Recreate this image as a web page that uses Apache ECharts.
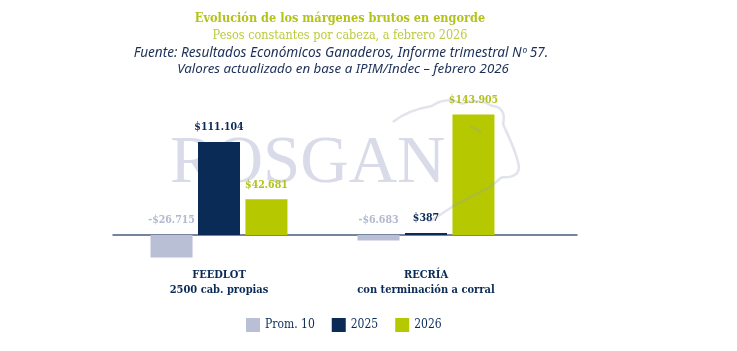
<!DOCTYPE html>
<html><head><meta charset="utf-8">
<script src="https://cdn.jsdelivr.net/npm/echarts@6/dist/echarts.min.js"></script>
<style>html,body{margin:0;padding:0;background:#fff}#c{width:737px;height:351px}</style>
</head><body><div id="c"></div>
<script>
const categories = ['FEEDLOT\n2500 cab. propias', 'RECRÍA\ncon terminación a corral'];
const seriesNames = ['Prom. 10', '2025', '2026'];
const prom10 = [-26715, -6683];
const y2025 = [111104, 387];
const y2026 = [42681, 143905];
const titleLines = [
  'Evolución de los márgenes brutos en engorde',
  'Pesos constantes por cabeza, a febrero 2026',
  'Fuente: Resultados Económicos Ganaderos, Informe trimestral Nº 57.',
  'Valores actualizado en base a IPIM/Indec – febrero 2026'
];
const colors = ['#b9bfd5', '#0b2b57', '#b6c800'];
const labelColors = ['#b3b9cf', '#0b2b57', '#b3c31f'];
const SLAB = '"DejaVu Serif Condensed", "DejaVu Serif", serif';

function fmt(v) {
  const s = Math.abs(v).toString().replace(/\B(?=(\d{3})+(?!\d))/g, '.');
  return (v < 0 ? '-$' : '$') + s;
}

const chart = echarts.init(document.getElementById('c'));
const yMin = -40000, yMax = 160000;
const mk = (i, data) => ({
  name: seriesNames[i], type: 'bar', data: data, barWidth: 42, barGap: '13%', barMinHeight: 2,
  itemStyle: { color: colors[i] }, z: 3,
  label: { show: true, position: 'top', distance: 9, formatter: p => fmt(p.value),
    color: labelColors[i], fontFamily: SLAB, fontWeight: 'bold', fontSize: 10.5 }
});
const cowStroke = 'rgba(150,158,190,0.28)';
const bez = (a) => ({ type: 'bezierCurve', z: 10, silent: true,
  shape: { x1: a[0], y1: a[1], cpx1: a[2], cpy1: a[3], cpx2: a[4], cpy2: a[5], x2: a[6], y2: a[7] },
  style: { stroke: cowStroke, lineWidth: 2.5, fill: null } });

chart.setOption({
  animation: false,
  grid: [
    { left: 115.5, width: 414, top: 101.1, bottom: 82.5 },
    { left: 113, right: 160, top: 101.1, bottom: 82.5 }
  ],
  xAxis: [
    { type: 'category', data: categories, gridIndex: 0,
      axisLine: { show: false }, axisTick: { show: false },
      axisLabel: { margin: -1, color: '#0b2b57', fontFamily: SLAB, fontWeight: 'bold', fontSize: 11, lineHeight: 15 } },
    { type: 'category', data: [''], gridIndex: 1,
      axisLine: { show: true, onZero: true, lineStyle: { color: '#4a5d7e', width: 1.5 } },
      axisTick: { show: false }, axisLabel: { show: false }, splitLine: { show: false } }
  ],
  yAxis: [
    { type: 'value', gridIndex: 0, min: yMin, max: yMax, show: false },
    { type: 'value', gridIndex: 1, min: yMin, max: yMax, show: false }
  ],
  legend: {
    data: seriesNames, left: 246, top: 318, padding: 0, itemWidth: 14, itemHeight: 14, itemGap: 17,
    icon: 'rect', textStyle: { color: '#0b2b57', fontFamily: SLAB, fontSize: 12 }
  },
  series: [mk(0, prom10), mk(1, y2025), mk(2, y2026)],
  graphic: [
    { type: 'text', x: 170, y: 131, z: 0, silent: true,
      style: { text: 'ROSGAN', font: '67px "Liberation Serif", serif', fill: '#d9dce8' } },
    bez([393, 122, 405, 112, 420, 108, 432, 106]),
    bez([432, 106, 440, 100, 452, 98, 462, 104]),
    bez([462, 104, 470, 100, 484, 100, 492, 106]),
    bez([492, 106, 500, 106, 506, 112, 503, 124]),
    bez([503, 124, 510, 140, 518, 155, 519, 168]),
    bez([519, 168, 518, 176, 510, 178, 502, 177]),
    bez([502, 177, 496, 182, 492, 186, 488, 188]),
    bez([488, 188, 475, 195, 462, 201, 452, 207]),
    bez([452, 207, 444, 212, 436, 218, 428, 222]),
    bez([470, 127, 474, 127, 478, 130, 481, 133]),
    { type: 'text', x: 340, y: 19, style: { text: titleLines[0], align: 'center', verticalAlign: 'middle',
      font: 'bold 12.6px ' + SLAB, fill: '#b4c31a' } },
    { type: 'text', x: 340, y: 36, style: { text: titleLines[1], align: 'center', verticalAlign: 'middle',
      font: '12.5px ' + SLAB, fill: '#bccb3c' } },
    { type: 'text', x: 341, y: 53, style: { text: titleLines[2], align: 'center', verticalAlign: 'middle',
      font: 'italic 13.6px "Noto Sans", sans-serif', fill: '#1c2f57' } },
    { type: 'text', x: 343, y: 69, style: { text: titleLines[3], align: 'center', verticalAlign: 'middle',
      font: 'italic 13.3px "Noto Sans", sans-serif', fill: '#1c2f57' } }
  ]
});
</script></body></html>
